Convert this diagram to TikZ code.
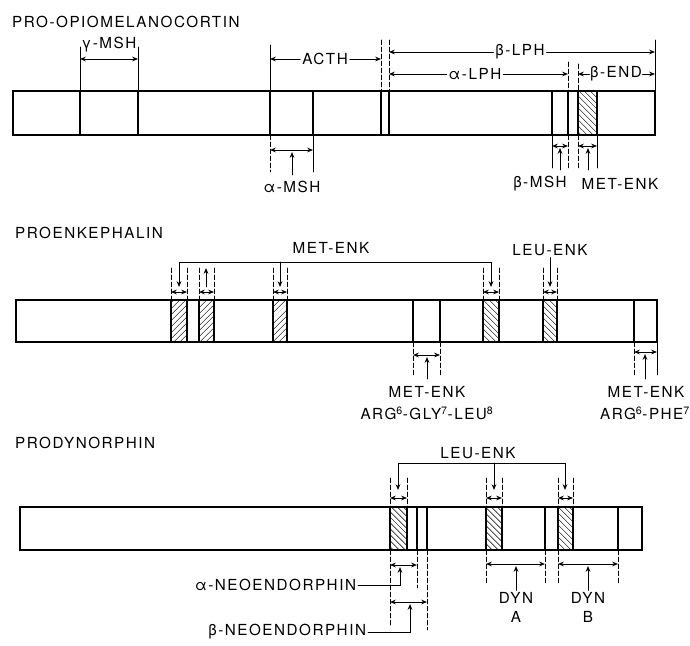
\documentclass[tikz,border=0pt]{standalone}
\usepackage{fontspec}
\setmainfont[LetterSpace=10]{TeX Gyre Heros}
\usepackage{tikz}
\usetikzlibrary{arrows.meta,patterns.meta}

\begin{document}
\begin{tikzpicture}[x=0.03cm, y=-0.03cm, >={Stealth[length=5pt, width=4pt]}, line cap=round,
  bar/.style={draw, line width=1.3pt},
  cut/.style={line width=1.1pt},
  hatchne/.style={draw, line width=1.1pt, pattern={Lines[angle=45, distance=4pt, line width=0.7pt]}},
  hatchnw/.style={draw, line width=1.1pt, pattern={Lines[angle=-45, distance=4pt, line width=0.7pt]}},
  tick/.style={line width=0.7pt},
  dtick/.style={line width=0.7pt, dash pattern=on 4pt off 2pt},
  span/.style={<->, line width=0.8pt},
  lead/.style={->, line width=0.8pt},
  lbl/.style={font=\fontsize{13}{15}\selectfont, inner sep=1.5pt},
  ttl/.style={font=\fontsize{13}{15}\selectfont, anchor=west, inner sep=0pt}]
\useasboundingbox (0,0) rectangle (690,646);

\node[ttl] (pomc) at (12,22) {PRO-OPIOMELANOCORTIN};
\draw[hatchnw] (578,91) rectangle (597,135);
\draw[bar] (13,91) rectangle (655,135);
\draw[cut] (80,91) -- (80,135) (138,91) -- (138,135) (270,91) -- (270,135) (313,91) -- (313,135) (381,91) -- (381,135) (389,91) -- (389,135) (552,91) -- (552,135) (568,91) -- (568,135);
\draw[tick] (80,47) -- (80,91) (138,47) -- (138,91) (270,45) -- (270,91) (655,40) -- (655,91);
\draw[dtick] (381,40) -- (381,91) (389,40) -- (389,91) (568,62) -- (568,91) (578,64) -- (578,91);
\node[lbl] (gmsh) at (109,45) {γ-MSH};
\draw[span] (80,59) -- (138,59);
\node[lbl] (acth) at (325,59) {ACTH};
\draw[lead] (acth.west) -- (270,59);
\draw[lead] (acth.east) -- (381,59);
\node[lbl] (blph) at (520,52) {β-LPH};
\draw[lead] (blph.west) -- (389,52);
\draw[lead] (blph.east) -- (655,52);
\node[lbl] (alph) at (475,74) {α-LPH};
\draw[lead] (alph.west) -- (389,74);
\draw[lead] (alph.east) -- (568,74);
\node[lbl, inner sep=0.5pt] (bend) at (616,74) {β-END};
\draw[lead] (bend.west) -- (578,74);
\draw[lead] (bend.east) -- (655,74);
\draw[dtick] (270,135) -- (270,172) (568,135) -- (568,168) (578,135) -- (578,168);
\draw[tick] (313,135) -- (313,172) (552,135) -- (552,168) (597,135) -- (597,168);
\draw[span] (270,150) -- (313,150);
\draw[span] (552,146) -- (568,146);
\draw[span] (578,146) -- (597,146);
\node[lbl] (amsh) at (292,187) {α-MSH};
\node[lbl] (bmsh) at (540,184) {β-MSH};
\node[lbl] (menk0) at (620,184) {MET-ENK};
\draw[lead] (292,175) -- (292,152);
\draw[lead] (560,170) -- (560,148);
\draw[lead] (588,170) -- (588,148);

\node[ttl] (penk) at (15,233) {PROENKEPHALIN};
\draw[hatchne] (171,300) rectangle (187,342);
\draw[hatchne] (199,300) rectangle (214,342);
\draw[hatchne] (273,300) rectangle (287,342);
\draw[hatchnw] (483,300) rectangle (499,342);
\draw[hatchnw] (543,300) rectangle (557,342);
\draw[bar] (16,300) rectangle (657,342);
\draw[cut] (413,300) -- (413,342) (440,300) -- (440,342) (634,300) -- (634,342);
\draw[dtick] (171,268) -- (171,300) (187,268) -- (187,300) (199,268) -- (199,300) (214,268) -- (214,300) (273,268) -- (273,300) (287,268) -- (287,300) (483,268) -- (483,300) (499,268) -- (499,300) (543,268) -- (543,300) (557,268) -- (557,300);
\draw[span] (171,292) -- (187,292);
\draw[span] (199,292) -- (214,292);
\draw[span] (273,292) -- (287,292);
\draw[span] (483,292) -- (499,292);
\draw[span] (543,292) -- (557,292);
\node[lbl] (menk1) at (331,248) {MET-ENK};
\draw[<->, line width=0.8pt] (179,287) -- (179,262) -- (491,262) -- (491,287);
\draw[lead] (280,262) -- (280,287);
\draw[lead] (206,287) -- (206,268);
\node[lbl] (lenk1) at (550,250) {LEU-ENK};
\draw[lead] (lenk1.south) -- (550,287);
\draw[dtick] (413,342) -- (413,375) (440,342) -- (440,375) (634,342) -- (634,375);
\draw[tick] (657,342) -- (657,375);
\draw[span] (413,355) -- (440,355);
\draw[span] (634,352) -- (657,352);
\node[lbl] (menk2) at (427,392) {MET-ENK};
\node[lbl] (arg1) at (427,413) {ARG\textsuperscript{6}-GLY\textsuperscript{7}-LEU\textsuperscript{8}};
\node[lbl] (menk3) at (646,392) {MET-ENK};
\node[lbl] (arg2) at (645,413) {ARG\textsuperscript{6}-PHE\textsuperscript{7}};
\draw[lead] (427,379) -- (427,357);
\draw[lead] (645,379) -- (645,354);

\node[ttl] (pdyn) at (15,443) {PRODYNORPHIN};
\draw[hatchnw] (390,507) rectangle (407,550);
\draw[hatchnw] (486,507) rectangle (502,550);
\draw[hatchnw] (558,507) rectangle (573,550);
\draw[bar] (20,507) rectangle (642,550);
\draw[cut] (417,507) -- (417,550) (427,507) -- (427,550) (545,507) -- (545,550) (618,507) -- (618,550);
\draw[dtick] (390,478) -- (390,507) (407,478) -- (407,507) (486,478) -- (486,507) (502,478) -- (502,507) (558,478) -- (558,507) (573,478) -- (573,507);
\draw[span] (390,498) -- (407,498);
\draw[span] (486,498) -- (502,498);
\draw[span] (558,498) -- (573,498);
\node[lbl] (lenk2) at (478,453) {LEU-ENK};
\draw[<->, line width=0.8pt] (398,490) -- (398,463) -- (565,463) -- (565,490);
\draw[lead] (494,463) -- (494,490);
\draw[dtick] (390,550) -- (390,625) (417,550) -- (417,588) (427,550) -- (427,630) (486,550) -- (486,585) (545,550) -- (545,585) (558,550) -- (558,585) (618,550) -- (618,585);
\draw[span] (390,565) -- (417,565);
\draw[span] (390,602) -- (427,602);
\draw[span] (486,564) -- (545,564);
\draw[span] (558,564) -- (618,564);
\node[lbl, anchor=east] (aneo) at (358,585) {α-NEOENDORPHIN};
\node[lbl, anchor=east] (bneo) at (368,632) {β-NEOENDORPHIN};
\draw[lead] (aneo.east) -- (400,585) -- (400,567);
\draw[lead] (bneo.east) -- (410,632) -- (410,604);
\node[lbl] (dyna) at (516,598) {DYN};
\node[lbl] (dynai) at (516,617) {A};
\node[lbl] (dynb) at (588,598) {DYN};
\node[lbl] (dynbi) at (588,617) {B};
\draw[lead] (dyna.north) -- (516,566);
\draw[lead] (dynb.north) -- (588,566);
\end{tikzpicture}
\end{document}
